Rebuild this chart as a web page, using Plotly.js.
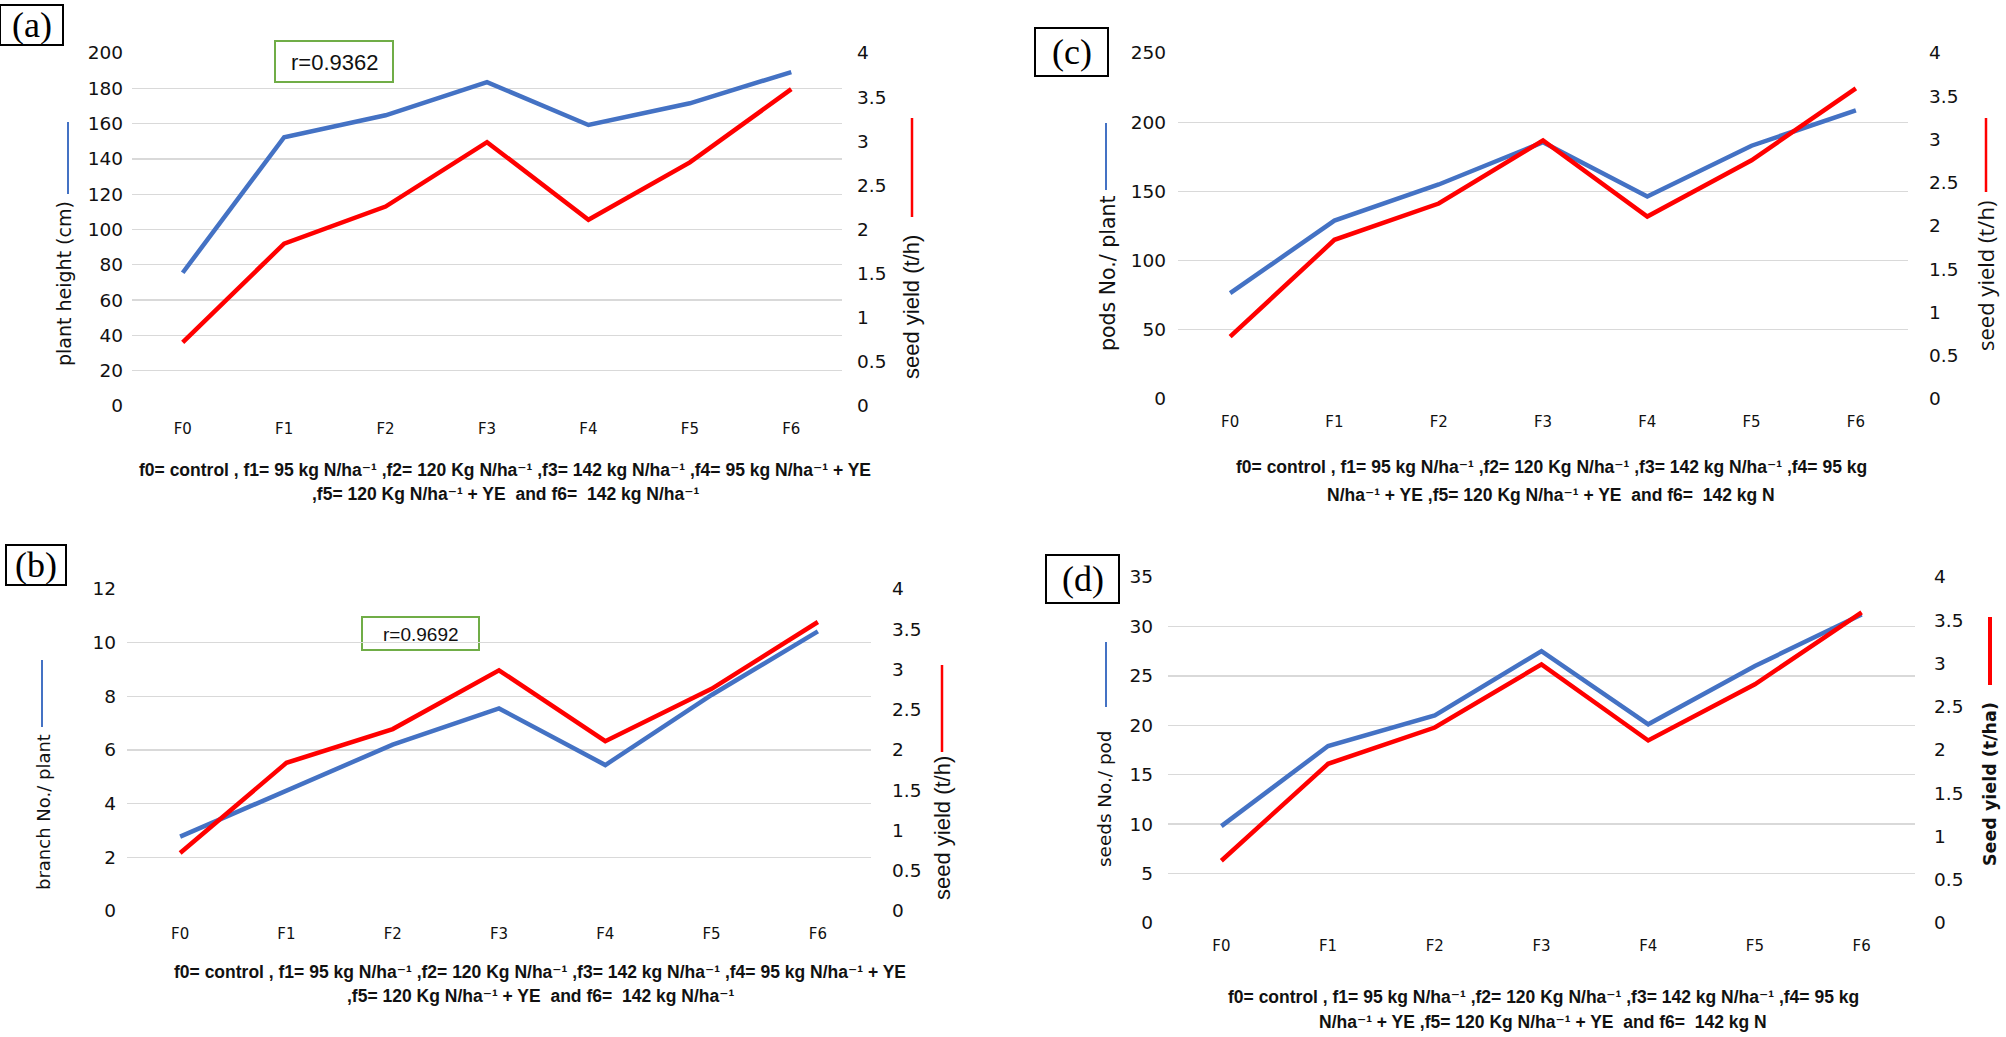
<!DOCTYPE html>
<html>
<head>
<meta charset="utf-8">
<script src="https://cdn.plot.ly/plotly-3.0.1.min.js"></script>
<style>html,body{margin:0;padding:0;background:#fff;}#chart{width:2006px;height:1037px;}</style>
</head>
<body>
<div id="chart"></div>
<script>
// ---------------- data ----------------
const categories = ["F0", "F1", "F2", "F3", "F4", "F5", "F6"];
const seedYield = [0.72, 1.84, 2.26, 2.99, 2.11, 2.76, 3.59];      // t/h (right axes)
const plantHeight = [75.5, 152.3, 164.7, 183.5, 159.2, 171.5, 189.2]; // cm  (a)
const branchNo = [2.77, 4.47, 6.2, 7.55, 5.44, 8.05, 10.42];          // (b)
const podsNo = [76.5, 128.9, 155, 185.5, 146.3, 183, 208.6];          // (c)
const seedsNo = [9.8, 17.9, 21.0, 27.5, 20.1, 26.0, 31.2];            // (d)

const captionAB1 = "f0= control , f1= 95 kg N/ha⁻¹ ,f2= 120 Kg N/ha⁻¹ ,f3= 142 kg N/ha⁻¹ ,f4= 95 kg N/ha⁻¹ + YE";
const captionAB2 = ",f5= 120 Kg N/ha⁻¹ + YE  and f6=  142 kg N/ha⁻¹";
const captionCD1 = "f0= control , f1= 95 kg N/ha⁻¹ ,f2= 120 Kg N/ha⁻¹ ,f3= 142 kg N/ha⁻¹ ,f4= 95 kg";
const captionCD2 = "N/ha⁻¹ + YE ,f5= 120 Kg N/ha⁻¹ + YE  and f6=  142 kg N";

// ---------------- layout helpers ----------------
const W = 2006, H = 1037;
const fx = p => p / W;
const fy = p => 1 - p / H;
const BLUE = "#4472C4", RED = "#FF0000", GRID = "#D9D9D9";
const TICKFONT = {family: "DejaVu Sans, Liberation Sans, sans-serif", size: 18.5, color: "#111"};
const XTICKFONT = {family: "DejaVu Sans, Liberation Sans, sans-serif", size: 15, color: "#111"};
const tfont = s => ({family: "DejaVu Sans, sans-serif", size: s, color: "#111"});
const CAPFONT = {family: "Liberation Sans, DejaVu Sans, sans-serif", size: 17.5, color: "#111", weight: "bold"};

const panels = [
  {id: "a", box: [132, 842, 53, 406], left: plantHeight, lmax: 200, ldt: 20,
   lstand: 8, rstand: 14, xlab: 12,
   labelBox: [0, 63, 5, 45],
   ltitle: {text: "plant height (cm)", x: 64, y: 283, font: tfont(19)}, lline: [68, 122, 194],
   rtitle: {text: "seed yield (t/h)", x: 912, y: 307, font: {family: "Liberation Sans, sans-serif", size: 22, color: "#111"}}, rline: [912, 118, 217, 2.5],
   cap: [505, 470, 494, captionAB1, captionAB2],
   rbox: [275, 393, 41, 82, "r=0.9362", 22]},
  {id: "b", box: [127, 871, 589, 911], left: branchNo, lmax: 12, ldt: 2,
   lstand: 10, rstand: 20, xlab: 12,
   labelBox: [6, 66, 545, 585],
   ltitle: {text: "branch No./ plant", x: 43, y: 812, font: tfont(18)}, lline: [42, 660, 727],
   rtitle: {text: "seed yield (t/h)", x: 942, y: 828, font: {family: "Liberation Sans, sans-serif", size: 22, color: "#111"}}, rline: [942, 665, 752, 2.5],
   cap: [540, 972, 996, captionAB1, captionAB2],
   rbox: [362, 479, 617, 650, "r=0.9692", 19]},
  {id: "c", box: [1178, 1908, 53, 399], left: podsNo, lmax: 250, ldt: 50,
   lstand: 11, rstand: 20, xlab: 12,
   labelBox: [1035, 1108, 28, 76],
   ltitle: {text: "pods No./ plant", x: 1108, y: 273, font: tfont(20.5)}, lline: [1106, 123, 190],
   rtitle: {text: "seed yield (t/h)", x: 1985, y: 276, font: {family: "Open Sans, sans-serif", size: 22, color: "#111"}}, rline: [1986, 118, 192, 2.5],
   cap: [1551, 467, 495, captionCD1, captionCD2],
   rbox: null},
  {id: "d", box: [1168, 1915, 577, 923], left: seedsNo, lmax: 35, ldt: 5,
   lstand: 14, rstand: 18, xlab: 12,
   labelBox: [1046, 1119, 555, 603],
   ltitle: {text: "seeds No./ pod", x: 1104, y: 799, font: tfont(18.4)}, lline: [1106, 642, 707],
   rtitle: {text: "Seed yield (t/ha)", x: 1990, y: 784, font: {family: "DejaVu Sans, sans-serif", size: 17.5, color: "#111", weight: "bold"}}, rline: [1990, 617, 685, 4],
   cap: [1543, 997, 1022, captionCD1, captionCD2],
   rbox: null}
];

const traces = [];
const layout = {
  width: W, height: H,
  margin: {l: 0, r: 0, t: 0, b: 0},
  paper_bgcolor: "#fff", plot_bgcolor: "rgba(0,0,0,0)",
  showlegend: false,
  shapes: [], annotations: []
};

panels.forEach((p, i) => {
  const xn = i + 1;
  const yl = 2 * i + 1, yr = 2 * i + 2;
  const xs = xn === 1 ? "" : String(xn);
  const xref = "x" + xs;
  const ylref = "y" + (yl === 1 ? "" : yl);
  const yrref = "y" + yr;
  const [x0, x1, y0, y1] = p.box;
  layout["xaxis" + xs] = {
    domain: [fx(x0), fx(x1)], anchor: ylref, type: "category",
    range: [-0.5, 6.5], showgrid: false, showline: false, zeroline: false,
    ticks: "", tickfont: XTICKFONT, ticklabelstandoff: p.xlab, fixedrange: true
  };
  layout["yaxis" + (yl === 1 ? "" : yl)] = {
    domain: [fy(y1), fy(y0)], anchor: xref, range: [0, p.lmax], dtick: p.ldt, tick0: 0,
    showgrid: true, gridcolor: GRID, gridwidth: 1.4, zeroline: false, showline: false,
    ticks: "", tickfont: TICKFONT, ticklabelstandoff: p.lstand, fixedrange: true
  };
  layout["yaxis" + yr] = {
    domain: [fy(y1), fy(y0)], anchor: xref, overlaying: ylref, side: "right",
    range: [0, 4], dtick: 0.5, tick0: 0, showgrid: false, zeroline: false, showline: false,
    ticks: "", tickfont: TICKFONT, ticklabelstandoff: p.rstand, fixedrange: true
  };
  traces.push({x: categories, y: p.left, xaxis: xref, yaxis: ylref, type: "scatter", mode: "lines",
               line: {color: BLUE, width: 4.5}, hoverinfo: "skip"});
  traces.push({x: categories, y: seedYield, xaxis: xref, yaxis: yrref, type: "scatter", mode: "lines",
               line: {color: RED, width: 4.5}, hoverinfo: "skip"});

  // panel label box
  const lb = p.labelBox;
  layout.shapes.push({type: "rect", xref: "paper", yref: "paper", x0: fx(lb[0]), x1: fx(lb[1]), y0: fy(lb[3]), y1: fy(lb[2]),
                      line: {color: "#000", width: 2}, fillcolor: "#fff"});
  layout.annotations.push({xref: "paper", yref: "paper", x: fx((lb[0] + lb[1]) / 2), y: fy((lb[2] + lb[3]) / 2),
                           xanchor: "center", yanchor: "middle", showarrow: false, text: "(" + p.id + ")",
                           font: {family: "Liberation Serif, Times New Roman, serif", size: 36, color: "#000"}});
  // axis titles
  [p.ltitle, p.rtitle].forEach(t => {
    layout.annotations.push({xref: "paper", yref: "paper", x: fx(t.x), y: fy(t.y), xanchor: "center", yanchor: "middle",
                             showarrow: false, textangle: -90, text: t.text, font: t.font});
  });
  layout.shapes.push({type: "line", xref: "paper", yref: "paper", x0: fx(p.lline[0]), x1: fx(p.lline[0]),
                      y0: fy(p.lline[1]), y1: fy(p.lline[2]), line: {color: BLUE, width: 2}});
  layout.shapes.push({type: "line", xref: "paper", yref: "paper", x0: fx(p.rline[0]), x1: fx(p.rline[0]),
                      y0: fy(p.rline[1]), y1: fy(p.rline[2]), line: {color: RED, width: p.rline[3]}});
  // caption
  const c = p.cap;
  [[c[1], c[3]], [c[2], c[4]]].forEach(([yy, txt]) => {
    layout.annotations.push({xref: "paper", yref: "paper", x: fx(c[0]), y: fy(yy), xanchor: "center", yanchor: "middle",
                             showarrow: false, text: txt, font: CAPFONT});
  });
  // correlation box
  if (p.rbox) {
    const r = p.rbox;
    layout.shapes.push({type: "rect", xref: "paper", yref: "paper", x0: fx(r[0]), x1: fx(r[1]), y0: fy(r[3]), y1: fy(r[2]),
                        line: {color: "#70AD47", width: 2}, fillcolor: "#fff", layer: "below"});
    layout.annotations.push({xref: "paper", yref: "paper", x: fx((r[0] + r[1]) / 2), y: fy((r[2] + r[3]) / 2 + 1),
                             xanchor: "center", yanchor: "middle", showarrow: false, text: r[4],
                             font: {family: "Liberation Sans, sans-serif", size: r[5], color: "#111"}});
  }
});

Plotly.newPlot("chart", traces, layout, {staticPlot: true, displayModeBar: false});
</script>
</body>
</html>
